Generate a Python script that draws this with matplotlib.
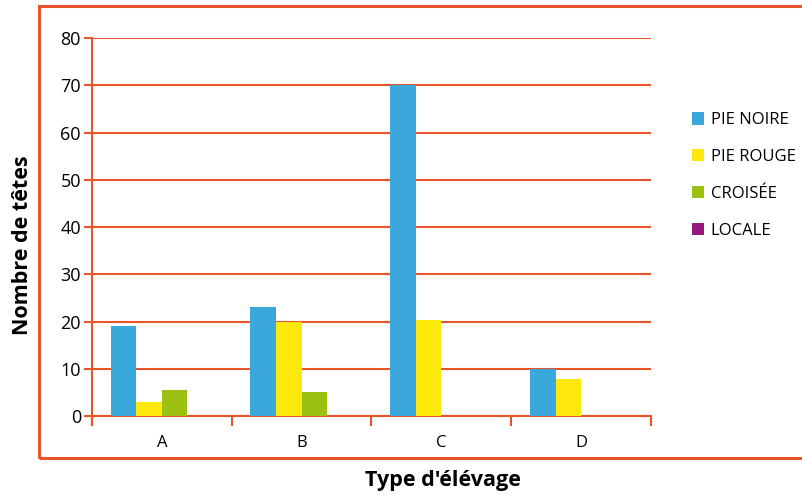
import numpy as np
import matplotlib.pyplot as plt
from matplotlib.patches import Rectangle

# data
categories = ["A", "B", "C", "D"]
pie_noire = [19, 23, 70, 10]
pie_rouge = [3, 20, 20.3, 7.8]
croisee = [5.4, 5, 0, 0]
locale = [0, 0, 0, 0]
series_names = ["PIE NOIRE", "PIE ROUGE", "CROISÉE", "LOCALE"]

colors = ["#3AA8DA", "#FCE80A", "#9BC010", "#951A80"]
orange = "#E8542A"

plt.rcParams['font.family'] = ['Open Sans', 'DejaVu Sans']

fig = plt.figure(figsize=(8.02, 4.95), dpi=100)
ax = fig.add_axes([0.1147, 0.1596, 0.697, 0.7636])

x = np.arange(len(categories))
w = 0.183
all_series = [pie_noire, pie_rouge, croisee, locale]
bars = []
for i, vals in enumerate(all_series):
    b = ax.bar(x + (i - 1.5) * w, vals, w, color=colors[i], zorder=3,
               label=series_names[i])
    bars.append(b)

ax.set_xlim(-0.5, 3.5)
ax.set_ylim(0, 80)
ax.set_yticks(range(0, 81, 10))
ax.yaxis.grid(True, color=orange, linewidth=1.5, zorder=1)
ax.set_axisbelow(True)

# x ticks sit on the category boundaries, labels in the middle
ax.set_xticks(np.arange(-0.5, 4, 1))
ax.set_xticklabels([])
ax.set_xticks(x, minor=True)
ax.set_xticklabels(categories, minor=True)
ax.tick_params(axis='x', which='major', length=7, width=1.5, color=orange, direction='out')
ax.tick_params(axis='x', which='minor', length=0, pad=14, labelsize=12)
ax.tick_params(axis='y', length=6, width=1.5, color=orange, labelsize=13, pad=2)

for s in ['top', 'right']:
    ax.spines[s].set_visible(False)
ax.spines['left'].set_color(orange)
ax.spines['left'].set_linewidth(1.5)
ax.spines['left'].set_bounds(-2, 80)
ax.spines['bottom'].set_color(orange)
ax.spines['bottom'].set_linewidth(1.5)

fig.text(0.028, 0.505, "Nombre de têtes", rotation=90, fontsize=15.5,
         fontweight='bold', ha='center', va='center')
fig.text(0.552, 0.029, "Type d'élévage", fontsize=15.5,
         fontweight='bold', ha='center', va='center')

leg = fig.legend(handles=bars, labels=series_names, loc='upper left',
                 bbox_to_anchor=(0.852, 0.79), frameon=False, fontsize=12,
                 handlelength=0.75, handleheight=0.75, handletextpad=0.4,
                 labelspacing=1.25, borderpad=0.3, borderaxespad=0.2)

# outer orange frame, running off the right edge
frame = Rectangle((39 / 802, 1 - 458 / 495), 1.0, (458 - 6) / 495,
                  transform=fig.transFigure, fill=False, edgecolor=orange,
                  linewidth=2.2, clip_on=False)
fig.patches.append(frame)

fig.savefig("out.png", dpi=100)
